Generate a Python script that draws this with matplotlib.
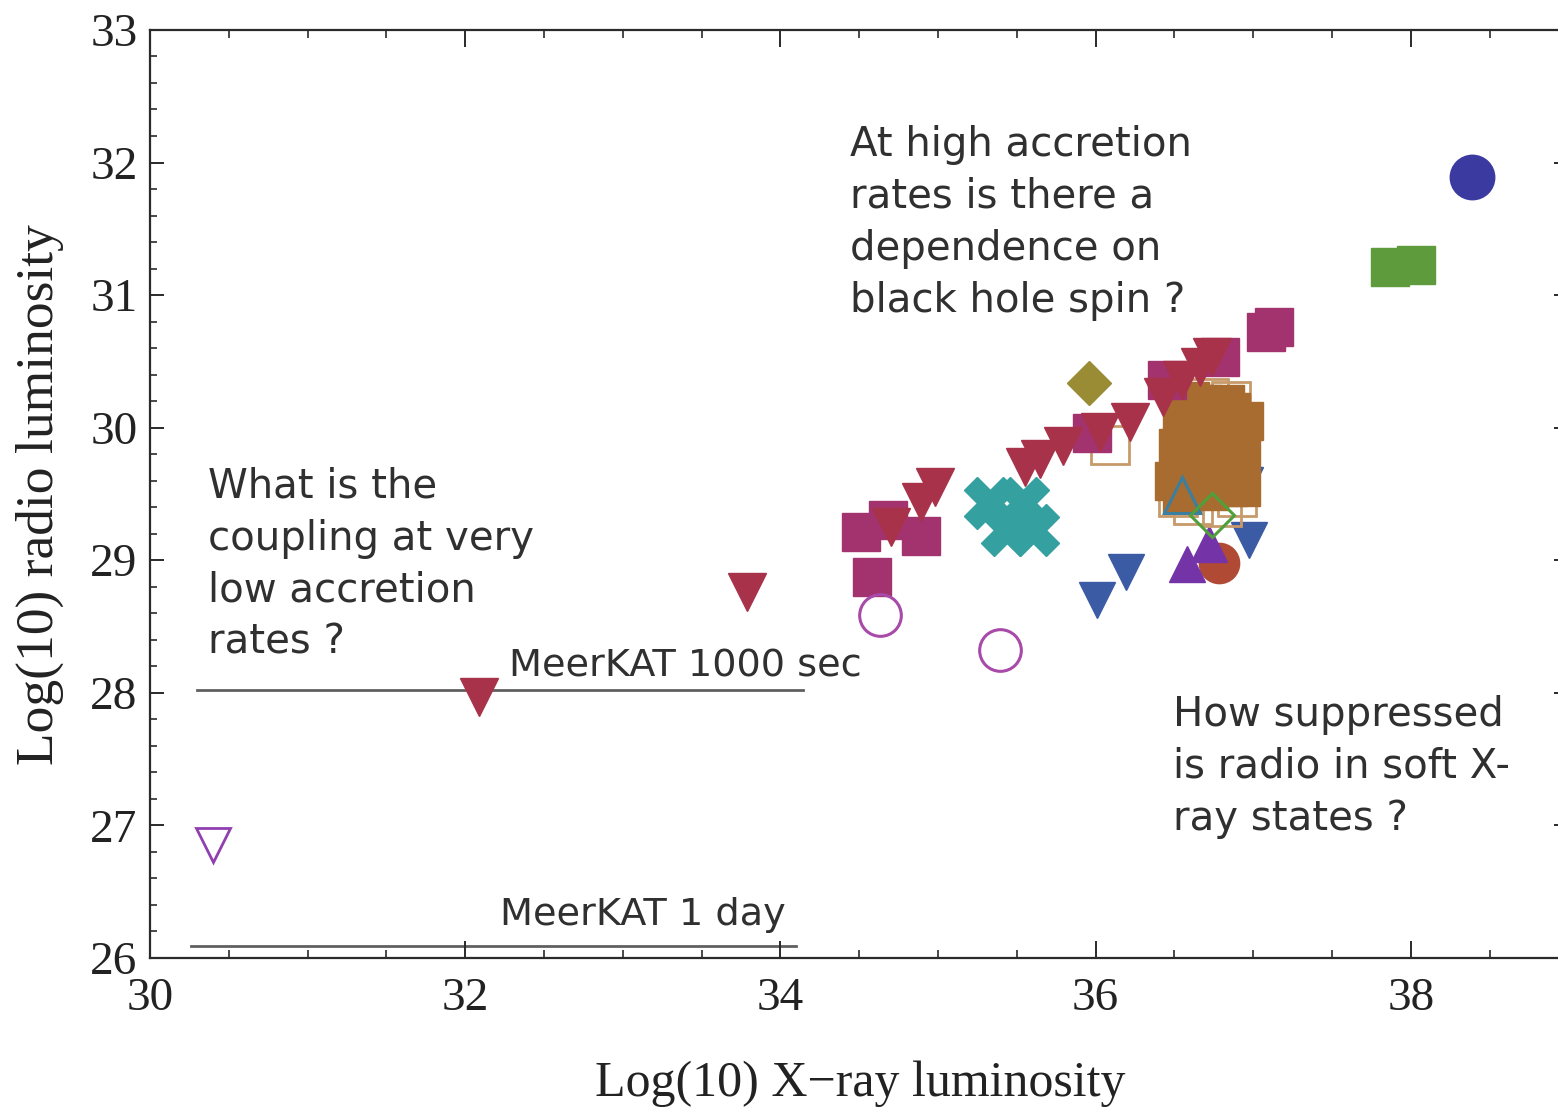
import matplotlib
matplotlib.use("Agg")
import matplotlib.pyplot as plt
from matplotlib.ticker import MultipleLocator

# ---- data: log10 X-ray luminosity vs log10 radio luminosity ----
# brown filled squares (dense cluster)
brown_x = [36.50, 36.52, 36.55, 36.58, 36.60, 36.62, 36.65, 36.68, 36.70, 36.72,
           36.75, 36.78, 36.80, 36.82, 36.85, 36.88, 36.90, 36.92, 36.94, 36.55,
           36.62, 36.70, 36.78, 36.86, 36.92, 36.60, 36.72, 36.84, 36.66, 36.80]
brown_y = [29.60, 29.85, 30.05, 29.70, 30.15, 29.55, 29.95, 30.18, 29.65, 29.85,
           30.10, 29.58, 29.90, 30.18, 29.70, 30.00, 29.60, 29.85, 30.05, 29.50,
           29.78, 30.00, 29.75, 30.12, 29.55, 30.20, 29.52, 29.55, 29.68, 30.02]
tan_open_x = [36.09, 36.52, 36.62, 36.80, 36.90, 36.72, 36.86]
tan_open_y = [29.87, 29.48, 29.42, 29.40, 29.48, 30.22, 30.20]

maroon_tri_x = [32.09, 33.79, 34.70, 34.89, 34.98, 35.55, 35.65, 35.79, 36.03,
                36.22, 36.43, 36.55, 36.66, 36.74]
maroon_tri_y = [27.97, 28.76, 29.25, 29.44, 29.55, 29.70, 29.76, 29.86, 29.97,
                30.04, 30.23, 30.36, 30.46, 30.53]

magenta_sq_x = [34.58, 34.51, 34.68, 34.89, 35.98, 36.45, 36.79, 37.08, 37.13]
magenta_sq_y = [28.87, 29.21, 29.30, 29.18, 29.96, 30.36, 30.53, 30.72, 30.76]

olive_dia_x = [35.96]
olive_dia_y = [30.34]

teal_x_x = [35.33, 35.54, 35.44, 35.60]
teal_x_y = [29.43, 29.43, 29.23, 29.23]

blue_tri_x = [36.01, 36.19, 36.97, 36.95]
blue_tri_y = [28.70, 28.91, 29.15, 29.57]

purple_up_x = [36.58, 36.72]
purple_up_y = [28.97, 29.12]

rust_circ_x = [36.78]
rust_circ_y = [28.98]

teal_open_up_x = [36.55]
teal_open_up_y = [29.49]

green_open_dia_x = [36.74]
green_open_dia_y = [29.34]

open_circ_x = [34.63, 35.39]
open_circ_y = [28.59, 28.32]

open_down_x = [30.40]
open_down_y = [26.85]

green_sq_x = [37.87, 38.03]
green_sq_y = [31.21, 31.23]

blue_circ_x = [38.39]
blue_circ_y = [31.89]

# MeerKAT sensitivity limits
meerkat_labels = ["MeerKAT 1000 sec", "MeerKAT 1 day"]
meerkat_levels = [28.02, 26.09]
meerkat_x0 = [30.30, 30.26]
meerkat_x1 = [34.14, 34.10]

# question text blocks
q_high = ["At high accretion", "rates is there a", "dependence on", "black hole spin ?"]
q_low = ["What is the", "coupling at very", "low accretion", "rates ?"]
q_soft = ["How suppressed", "is radio in soft X-", "ray states ?"]

# ---- figure ----
fig = plt.figure(figsize=(15.58, 11.09), dpi=100)
ax = fig.add_axes([0.0963, 0.1362, 0.9104, 0.8368])
ax.set_xlim(30, 39)
ax.set_ylim(26, 33)


def pts(x, y, marker, color, ms, filled=True, mew=1.0, z=2):
    if filled:
        ax.plot(x, y, ls="none", marker=marker, ms=ms, color=color,
                mec=color, mew=mew, zorder=z)
    else:
        ax.plot(x, y, ls="none", marker=marker, ms=ms, mfc="none",
                mec=color, mew=mew, zorder=z)


pts(blue_tri_x, blue_tri_y, "v", "#3b5ba5", 26, z=2)
pts(rust_circ_x, rust_circ_y, "o", "#b04a35", 29, z=2.1)
pts(purple_up_x, purple_up_y, "^", "#7434a8", 26, z=2.2)
pts(brown_x, brown_y, "s", "#a86c30", 27, z=2.3)
pts(tan_open_x, tan_open_y, "s", "#c89a6a", 27, filled=False, mew=2.0, z=2.25)
pts(magenta_sq_x, magenta_sq_y, "s", "#a3336f", 27, z=2.4)
pts(teal_x_x, teal_x_y, "X", "#35a0a0", 37, z=2.45)
pts(maroon_tri_x, maroon_tri_y, "v", "#a8324a", 27, z=2.5)
pts(olive_dia_x, olive_dia_y, "D", "#9a8b35", 22, z=2.6)
pts(teal_open_up_x, teal_open_up_y, "^", "#3a7f9f", 26, filled=False, mew=2.2, z=2.7)
pts(green_open_dia_x, green_open_dia_y, "D", "#4fa03a", 22, filled=False, mew=2.2, z=2.7)
pts(open_circ_x, open_circ_y, "o", "#a84aa8", 30, filled=False, mew=2.2, z=2.7)
pts(open_down_x, open_down_y, "v", "#9040b0", 24, filled=False, mew=2.0, z=2.7)
pts(green_sq_x, green_sq_y, "s", "#5d9b3c", 27, z=2.8)
pts(blue_circ_x, blue_circ_y, "o", "#3a3aa0", 32, z=2.8)

# sensitivity lines and their labels
label_x = [32.28, 32.22]
label_dy = [0.10, 0.16]
for lab, lev, x0, x1, tx, dy in zip(meerkat_labels, meerkat_levels, meerkat_x0,
                                    meerkat_x1, label_x, label_dy):
    ax.plot([x0, x1], [lev, lev], color="#606060", lw=2.0, zorder=1.5)
    ax.text(tx, lev + dy, lab, fontsize=27.5, color="#303030",
            family="DejaVu Sans", va="baseline", ha="left")

text_kw = dict(fontsize=29, color="#303030", family="DejaVu Sans",
               va="baseline", ha="left", zorder=5)
line_step = 52 / 132.6
for i, s in enumerate(q_high):
    ax.text(34.44, 32.05 - i * line_step, s, **text_kw)
for i, s in enumerate(q_low):
    ax.text(30.37, 29.47 - i * line_step, s, **text_kw)
for i, s in enumerate(q_soft):
    ax.text(36.49, 27.75 - i * line_step, s, **text_kw)

# ---- axes styling ----
for side in ["left", "bottom", "top", "right"]:
    ax.spines[side].set_linewidth(1.6)
    ax.spines[side].set_color("#2a2a2a")

ax.xaxis.set_major_locator(MultipleLocator(2))
ax.xaxis.set_minor_locator(MultipleLocator(0.5))
ax.yaxis.set_major_locator(MultipleLocator(1))
ax.yaxis.set_minor_locator(MultipleLocator(0.2))
ax.tick_params(axis="x", which="both", direction="in", top=True, colors="#2a2a2a",
               labelcolor="#222222")
ax.tick_params(axis="y", which="both", direction="in", right=True, colors="#2a2a2a",
               labelcolor="#222222")
ax.tick_params(axis="x", which="major", length=12, width=1.4, pad=14, labelsize=34)
ax.tick_params(axis="x", which="minor", length=6, width=1.2)
ax.tick_params(axis="y", which="major", length=10, width=1.4, pad=9, labelsize=34)
ax.tick_params(axis="y", which="minor", length=5, width=1.2)
for lab in ax.get_xticklabels() + ax.get_yticklabels():
    lab.set_family("Liberation Serif")

ax.set_xlabel("Log(10) X\u2212ray luminosity", fontsize=36, family="Liberation Serif",
              color="#222222")
ax.set_ylabel("Log(10) radio luminosity", fontsize=38.5, family="Liberation Serif",
              color="#222222")
ax.xaxis.set_label_coords((860 - 150) / (0.9104 * 1558), -0.11)
ax.yaxis.set_label_coords(-0.061, (1109 - 495 - 151) / (0.8368 * 1109))

fig.savefig("out.png", dpi=100)
